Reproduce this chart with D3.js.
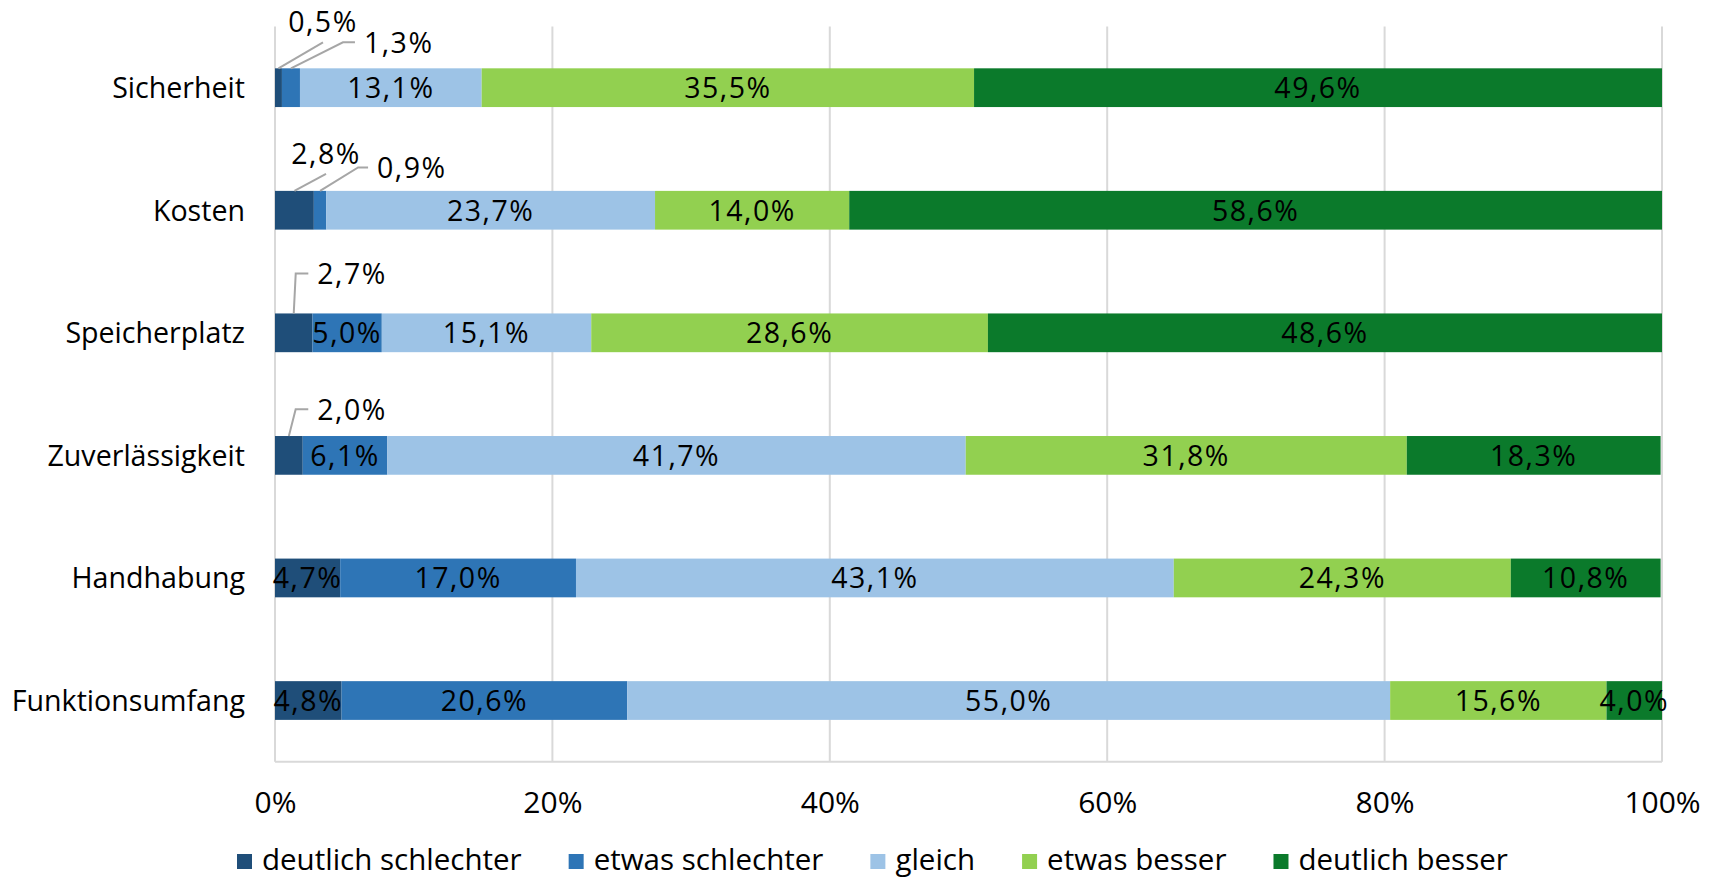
<!DOCTYPE html>
<html lang="de">
<head>
<meta charset="utf-8">
<script src="https://cdn.jsdelivr.net/npm/d3@7"></script>
<style>
  html, body { margin: 0; padding: 0; background: #ffffff; }
  svg { display: block; }
  text { fill: #000000; }
</style>
</head>
<body>
<svg id="chart" width="1719" height="878"></svg>
<script>
// Survey categories, top to bottom
const categories = ["Sicherheit", "Kosten", "Speicherplatz", "Zuverlässigkeit", "Handhabung", "Funktionsumfang"];

// Answer scale (stack order left to right)
const seriesNames = ["deutlich schlechter", "etwas schlechter", "gleich", "etwas besser", "deutlich besser"];

// Shares in percent per answer, one value per category
const deutlichSchlechter = [0.5, 2.8, 2.7, 2.0, 4.7, 4.8];
const etwasSchlechter    = [1.3, 0.9, 5.0, 6.1, 17.0, 20.6];
const gleich             = [13.1, 23.7, 15.1, 41.7, 43.1, 55.0];
const etwasBesser        = [35.5, 14.0, 28.6, 31.8, 24.3, 15.6];
const deutlichBesser     = [49.6, 58.6, 48.6, 18.3, 10.8, 4.0];

// Axis ticks
const tickValues = [0, 20, 40, 60, 80, 100];

const seriesValues = [deutlichSchlechter, etwasSchlechter, gleich, etwasBesser, deutlichBesser];
const colors = ["#1f4e79", "#2e75b6", "#9dc3e6", "#92d050", "#0b7a2b"];

// Segments whose label sits outside the bar with a leader line
// (category, series index) -> leader geometry in px
const callouts = [
  { cat: "Sicherheit",      s: 0, dx: 44.5, dy: -26,  h: 0,    mode: "above" },
  { cat: "Sicherheit",      s: 1, dx: 52,   dy: -26,  h: 12,   mode: "right" },
  { cat: "Kosten",          s: 0, dx: 31.6, dy: -17,  h: 0,    mode: "above" },
  { cat: "Kosten",          s: 1, dx: 38,   dy: -23.5,h: 10,   mode: "right" },
  { cat: "Speicherplatz",   s: 0, dx: 2,    dy: -40,  h: 12.6, mode: "right" },
  { cat: "Zuverlässigkeit", s: 0, dx: 6.8,  dy: -26.7,h: 12.6, mode: "right" }
];

const labelFont = "'Open Sans', 'Noto Sans', sans-serif";

const svg = d3.select("#chart");
const margin = { left: 275, right: 1719 - 1662, top: 26.4, bottom: 878 - 761.8 };
const width = 1719;
const height = 878;

const x = d3.scaleLinear().domain([0, 100]).range([margin.left, width - margin.right]);
const y = d3.scaleBand().domain(categories).range([margin.top, height - margin.bottom]).paddingInner(0.684).paddingOuter(0.342);

const fmt = v => d3.format(".1f")(v).replace(".", ",") + "%";

// Build stacked data
const rows = categories.map((c, i) => {
  const o = { category: c };
  seriesNames.forEach((s, k) => { o[s] = seriesValues[k][i]; });
  return o;
});
const stacked = d3.stack().keys(seriesNames)(rows);

// Gridlines
const grid = svg.append("g");
grid.selectAll("line.v")
  .data(tickValues)
  .join("line")
  .attr("x1", d => x(d)).attr("x2", d => x(d))
  .attr("y1", margin.top).attr("y2", height - margin.bottom)
  .attr("stroke", "#d9d9d9").attr("stroke-width", 2);
grid.append("line")
  .attr("x1", x(0)).attr("x2", x(100))
  .attr("y1", height - margin.bottom).attr("y2", height - margin.bottom)
  .attr("stroke", "#d9d9d9").attr("stroke-width", 2);

// Bars
const layers = svg.append("g").selectAll("g")
  .data(stacked)
  .join("g")
  .attr("fill", (d, i) => colors[i]);

layers.selectAll("rect")
  .data(d => d.map(p => ({ p, key: d.key })))
  .join("rect")
  .attr("x", d => x(d.p[0]))
  .attr("y", d => y(d.p.data.category))
  .attr("width", d => x(d.p[1]) - x(d.p[0]))
  .attr("height", y.bandwidth());

// Segment labels
const isCallout = (cat, s) => callouts.some(c => c.cat === cat && c.s === s);
const labels = svg.append("g")
  .attr("font-family", labelFont)
  .attr("font-size", 28.5)
  .attr("letter-spacing", 1.5);

stacked.forEach((layer, s) => {
  layer.forEach(p => {
    const cat = p.data.category;
    if (isCallout(cat, s)) return;
    labels.append("text")
      .attr("x", (x(p[0]) + x(p[1])) / 2)
      .attr("y", y(cat) + y.bandwidth() / 2)
      .attr("dy", "0.36em")
      .attr("text-anchor", "middle")
      .text(fmt(p[1] - p[0]));
  });
});

// Callout labels with leader lines
callouts.forEach(c => {
  const s = c.s;
  const p = stacked[s][categories.indexOf(c.cat)];
  const x0 = (x(p[0]) + x(p[1])) / 2;
  const y0 = y(c.cat);
  const x1 = x0 + c.dx, y1 = y0 + c.dy;
  const x2 = x1 + c.h;
  svg.append("polyline")
    .attr("points", [[x0, y0], [x1, y1], [x2, y1]].map(d => d.join(",")).join(" "))
    .attr("fill", "none")
    .attr("stroke", "#a6a6a6")
    .attr("stroke-width", 2);
  const t = labels.append("text").text(fmt(p[1] - p[0]));
  if (c.mode === "above") {
    t.attr("x", x1).attr("y", y1 - 10).attr("text-anchor", "middle");
  } else {
    t.attr("x", x2 + 9).attr("y", y1).attr("dy", "0.36em").attr("text-anchor", "start");
  }
});

// Category axis labels
svg.append("g")
  .attr("font-family", labelFont)
  .attr("font-size", 28.6)
  .selectAll("text")
  .data(categories)
  .join("text")
  .attr("x", margin.left - 30)
  .attr("y", d => y(d) + y.bandwidth() / 2)
  .attr("dy", "0.36em")
  .attr("text-anchor", "end")
  .text(d => d);

// Value axis
const xAxis = d3.axisBottom(x)
  .tickValues(tickValues)
  .tickSize(0)
  .tickPadding(0)
  .tickFormat(d => d + "%");
const axisG = svg.append("g")
  .attr("transform", `translate(0,${height - margin.bottom})`)
  .call(xAxis);
axisG.select(".domain").remove();
axisG.selectAll("text")
  .attr("font-family", labelFont)
  .attr("font-size", 30)
  .attr("fill", "#000")
  .attr("dy", null)
  .attr("y", 51);

// Legend
const legend = svg.append("g")
  .attr("font-family", labelFont)
  .attr("font-size", 29.5);
let lx = 237;
seriesNames.forEach((name, i) => {
  legend.append("rect")
    .attr("x", lx).attr("y", 854)
    .attr("width", 15).attr("height", 15)
    .attr("fill", colors[i]);
  const t = legend.append("text")
    .attr("x", lx + 25).attr("y", 870)
    .text(name);
  lx += 25 + t.node().getComputedTextLength() + 47;
});
</script>
</body>
</html>
